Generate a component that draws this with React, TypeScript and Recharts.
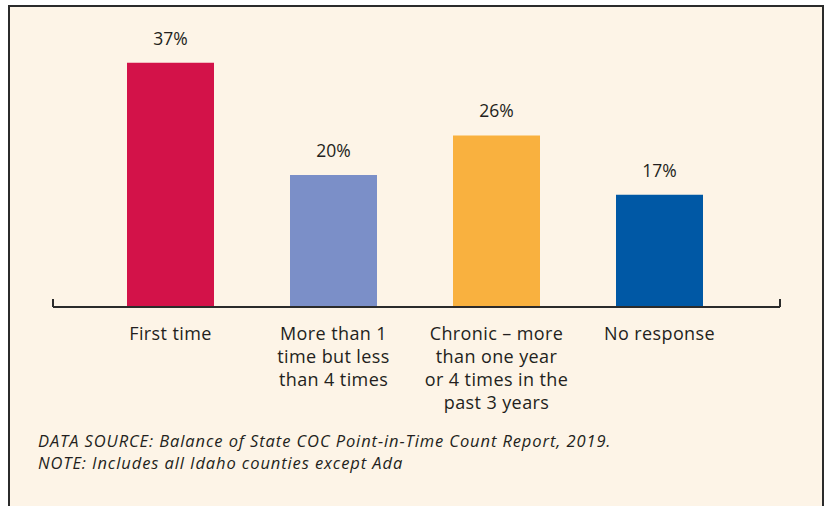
import React from 'react'
import { BarChart, Bar, XAxis, YAxis, Cell, LabelList } from 'recharts'

// categories and their wrapped tick lines
const categories = [
    'First time',
    'More than 1 time but less than 4 times',
    'Chronic – more than one year or 4 times in the past 3 years',
    'No response',
]
const tickLines = [
    ['First time'],
    ['More than 1', 'time but less', 'than 4 times'],
    ['Chronic – more', 'than one year', 'or 4 times in the', 'past 3 years'],
    ['No response'],
]
const shares = [37, 20, 26, 17]
const barColors = ['#d31249', '#7b8fc8', '#f9b13f', '#0058a5']

const FONT = '"Open Sans", "Noto Sans", sans-serif'
const INK = '#231f20'

const data = categories.map((name, i) => ({ name, value: shares[i] }))

const MultiLineTick = (props: any) => {
    const { x, y, payload } = props
    const lines = tickLines[payload.index] || [payload.value]
    return (
        <g transform={`translate(${x},${y})`}>
            {lines.map((line: string, i: number) => (
                <text key={i} x={0} y={25 + i * 23} textAnchor="middle" fill={INK} fontSize={18} letterSpacing={0.4} fontFamily={FONT}>
                    {line}
                </text>
            ))}
        </g>
    )
}

export default function App() {
    return (
        <div style={{ position: 'absolute', left: 0, top: 0, width: 829, height: 506, background: '#fff', overflow: 'hidden' }}>
            {/* cream frame */}
            <div style={{
                position: 'absolute', left: 8, top: 5, width: 812, height: 520,
                background: '#fdf4e7', borderTop: '2px solid #2b2b2b', borderLeft: '2px solid #2b2b2b', borderRight: '2px solid #2b2b2b'
            }} />

            <div style={{ position: 'absolute', left: 0, top: 0 }}>
                <BarChart width={829} height={430} data={data} margin={{ top: 43, right: 49, bottom: 0, left: 53 }}>
                    <XAxis
                        dataKey="name"
                        interval={0}
                        padding={{ left: 36, right: 39 }}
                        axisLine={{ stroke: '#2b2b2b', strokeWidth: 2 }}
                        tickLine={false}
                        height={123}
                        tick={<MultiLineTick />}
                    />
                    <YAxis hide domain={[0, 40]} />
                    <Bar dataKey="value" barSize={87} isAnimationActive={false}>
                        {data.map((d, i) => (
                            <Cell key={d.name} fill={barColors[i]} />
                        ))}
                        <LabelList
                            dataKey="value"
                            position="top"
                            offset={18}
                            formatter={(v: any) => `${v}%`}
                            style={{ fontSize: 17.5, fontFamily: FONT, fill: INK }}
                        />
                    </Bar>
                </BarChart>
            </div>

            {/* axis end caps */}
            <div style={{ position: 'absolute', left: 52, top: 299, width: 2, height: 8, background: '#2b2b2b' }} />
            <div style={{ position: 'absolute', left: 779, top: 299, width: 2, height: 8, background: '#2b2b2b' }} />

            {/* footnotes */}
            <div style={{
                position: 'absolute', left: 38, top: 430, fontFamily: FONT, fontStyle: 'italic',
                fontSize: 16.5, letterSpacing: 0.9, lineHeight: '22px', color: INK
            }}>
                <div>DATA SOURCE: Balance of State COC Point-in-Time Count Report, 2019.</div>
                <div>NOTE: Includes all Idaho counties except Ada</div>
            </div>
        </div>
    )
}
